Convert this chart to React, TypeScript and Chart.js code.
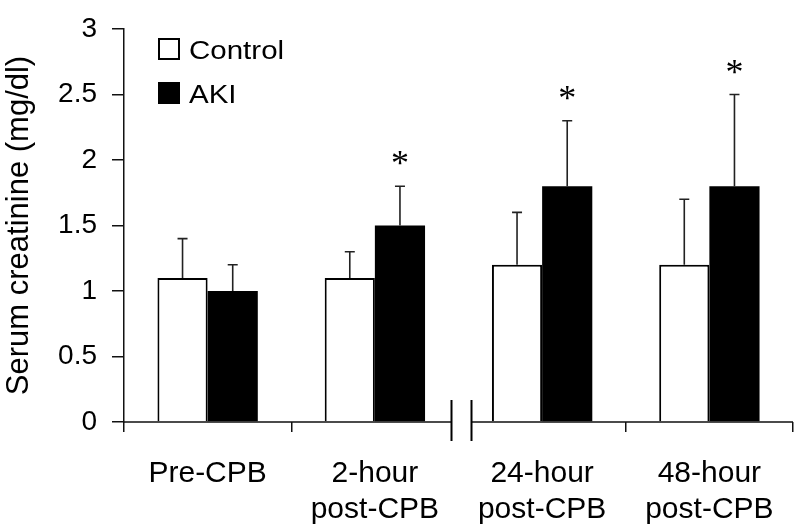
import React, { useEffect, useRef } from "react";
import { Chart, registerables } from "chart.js";

Chart.register(...registerables);

const categories: (string | string[])[] = [
  "Pre-CPB",
  ["2-hour", "post-CPB"],
  ["24-hour", "post-CPB"],
  ["48-hour", "post-CPB"],
];
const controlLabel = "Control";
const akiLabel = "AKI";
const controlValues = [1.1, 1.1, 1.2, 1.2];
const controlErrors = [0.3, 0.2, 0.4, 0.5];
const akiValues = [1.0, 1.5, 1.8, 1.8];
const akiErrors = [0.2, 0.3, 0.5, 0.7];
const akiSignificant = [false, true, true, true];
const yMin = 0;
const yMax = 3;
const yStep = 0.5;
const yTitle = "Serum creatinine (mg/dl)";
const breakAfterIndex = 1;

const SANS = "'Liberation Sans', Arial, Helvetica, sans-serif";
const SERIF = "'Liberation Serif', 'Times New Roman', serif";

const errorBarPlugin = {
  id: "errorBars",
  afterDatasetsDraw(chart: any) {
    const ctx = chart.ctx;
    const yScale = chart.scales.y;
    chart.data.datasets.forEach((ds: any, i: number) => {
      const meta = chart.getDatasetMeta(i);
      meta.data.forEach((el: any, j: number) => {
        const top = yScale.getPixelForValue(ds.data[j] + ds.errors[j]);
        ctx.save();
        ctx.strokeStyle = "#222";
        ctx.lineWidth = 1.6;
        ctx.beginPath();
        ctx.moveTo(el.x, el.y);
        ctx.lineTo(el.x, top);
        ctx.moveTo(el.x - 5, top);
        ctx.lineTo(el.x + 5, top);
        ctx.stroke();
        if (ds.significant && ds.significant[j]) {
          ctx.fillStyle = "#000";
          ctx.font = `36px ${SERIF}`;
          ctx.textAlign = "center";
          ctx.textBaseline = "alphabetic";
          ctx.fillText("*", el.x, top - 11);
        }
        ctx.restore();
      });
    });
  },
};

const axisBreakPlugin = {
  id: "axisBreak",
  afterDraw(chart: any) {
    const ctx = chart.ctx;
    const xScale = chart.scales.x;
    const { left, right, bottom } = chart.chartArea;
    const bx =
      (xScale.getPixelForValue(breakAfterIndex) + xScale.getPixelForValue(breakAfterIndex + 1)) / 2 + 3;
    ctx.save();
    ctx.strokeStyle = "#111";
    ctx.lineWidth = 1.5;
    ctx.beginPath();
    ctx.moveTo(left, bottom);
    ctx.lineTo(bx - 10, bottom);
    ctx.moveTo(bx + 10, bottom);
    ctx.lineTo(right, bottom);
    ctx.stroke();
    ctx.lineWidth = 2;
    ctx.strokeStyle = "#000";
    ctx.beginPath();
    ctx.moveTo(bx - 10, bottom - 22);
    ctx.lineTo(bx - 10, bottom + 19);
    ctx.moveTo(bx + 10, bottom - 22);
    ctx.lineTo(bx + 10, bottom + 19);
    ctx.stroke();
    ctx.restore();
  },
};

const legendPlugin = {
  id: "customLegend",
  afterDraw(chart: any) {
    const ctx = chart.ctx;
    const items = chart.data.datasets.map((ds: any) => ({
      label: ds.label,
      fill: ds.backgroundColor,
    }));
    const boxX = 159;
    const boxTops = [39, 83];
    const size = 20;
    items.forEach((it: any, k: number) => {
      const y0 = boxTops[k];
      ctx.save();
      ctx.fillStyle = it.fill;
      ctx.fillRect(boxX, y0, size, size);
      ctx.strokeStyle = "#000";
      ctx.lineWidth = 2;
      ctx.strokeRect(boxX, y0, size, size);
      ctx.fillStyle = "#000";
      ctx.font = `25px ${SANS}`;
      ctx.textAlign = "left";
      ctx.textBaseline = "alphabetic";
      ctx.translate(189, y0 + size);
      ctx.scale(1.18, 1);
      ctx.fillText(it.label, 0, 0);
      ctx.restore();
    });
  },
};

export default function App() {
  const canvasRef = useRef<HTMLCanvasElement | null>(null);

  useEffect(() => {
    document.body.style.margin = "0";
    const canvas = canvasRef.current;
    if (!canvas) return;
    const chart = new Chart(canvas, {
      type: "bar",
      data: {
        labels: categories,
        datasets: [
          {
            label: controlLabel,
            data: controlValues,
            errors: controlErrors,
            backgroundColor: "#ffffff",
            borderColor: "#000000",
            borderWidth: 2,
            borderSkipped: "start",
          } as any,
          {
            label: akiLabel,
            data: akiValues,
            errors: akiErrors,
            significant: akiSignificant,
            backgroundColor: "#000000",
            borderColor: "#000000",
            borderWidth: 0,
          } as any,
        ],
      },
      options: {
        animation: false,
        responsive: false,
        devicePixelRatio: 1,
        layout: { padding: { top: 15, right: 7, left: 0, bottom: 0 } },
        datasets: {
          bar: { categoryPercentage: 0.6, barPercentage: 1.0 },
        },
        plugins: {
          legend: { display: false },
          tooltip: { enabled: false },
        },
        scales: {
          x: {
            type: "category",
            offset: true,
            border: { display: false },
            grid: {
              display: true,
              offset: true,
              drawOnChartArea: false,
              drawTicks: true,
              tickLength: 10,
              lineWidth: 1.5,
              color: (c: any) => (c.index === breakAfterIndex + 1 ? "rgba(0,0,0,0)" : "#111"),
            },
            ticks: {
              color: "#000",
              font: { family: SANS, size: 30, lineHeight: 1.2 },
              padding: 24,
              maxRotation: 0,
              autoSkip: false,
            },
            afterFit: (scale: any) => {
              scale.height = 108;
            },
          },
          y: {
            min: yMin,
            max: yMax,
            border: { display: true, color: "#111", width: 1.5 },
            grid: {
              display: true,
              drawOnChartArea: false,
              drawTicks: true,
              tickLength: 12,
              lineWidth: 1.5,
              color: "#111",
            },
            ticks: {
              stepSize: yStep,
              color: "#000",
              font: { family: SANS, size: 28, lineHeight: 1.0 },
              padding: 15,
              callback: (v: any) => String(Number(v)),
            },
            title: {
              display: true,
              text: yTitle,
              color: "#000",
              font: { family: SANS, size: 31, lineHeight: 1.2 },
              padding: { top: 1, bottom: 0 },
            },
            afterFit: (scale: any) => {
              scale.width = 124;
            },
          },
        },
      },
      plugins: [errorBarPlugin, axisBreakPlugin, legendPlugin],
    });
    return () => chart.destroy();
  }, []);

  return (
    <div style={{ width: 800, height: 530, background: "#fff" }}>
      <canvas ref={canvasRef} width={800} height={530} style={{ display: "block" }} />
    </div>
  );
}
